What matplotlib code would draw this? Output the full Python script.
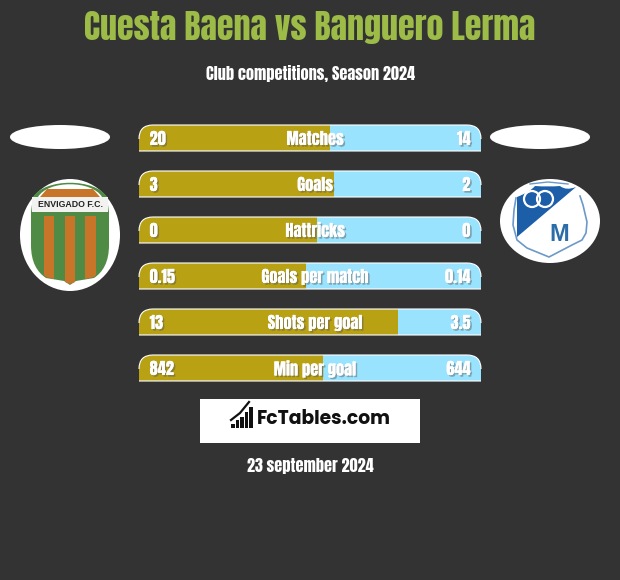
import matplotlib
matplotlib.use("Agg")
import matplotlib.pyplot as plt
import matplotlib.patches as patches
import matplotlib.patheffects as pe
from matplotlib.path import Path

# values as printed on the chart
stats = ["Matches", "Goals", "Hattricks", "Goals per match", "Shots per goal", "Min per goal"]
home_labels = ["20", "3", "0", "0.15", "13", "842"]
away_labels = ["14", "2", "0", "0.14", "3.5", "644"]
# gold share of each bar in percent
home_share = [55.8, 57.0, 52.0, 48.8, 75.7, 53.8]

title = "Cuesta Baena vs Banguero Lerma"
subtitle = "Club competitions, Season 2024"
date_text = "23 september 2024"

BG = "#333333"
GOLD = "#B8A113"
BLUE = "#99E3FF"
GREEN = "#9CBB47"
ANTON = ["Anton", "DejaVu Sans"]

M, L, C3, C4, Z = Path.MOVETO, Path.LINETO, Path.CURVE3, Path.CURVE4, Path.CLOSEPOLY

fig = plt.figure(figsize=(6.2, 5.8), dpi=100, facecolor=BG)

# page layer in pixel coordinates, for texts and badges
page = fig.add_axes([0, 0, 1, 1])
page.set_xlim(0, 620)
page.set_ylim(580, 0)
page.axis("off")

page.text(310, 27.5, title, color=GREEN, fontsize=24.4, family=ANTON, ha="center", va="center")
page.text(310, 74, subtitle, color="white", fontsize=11.7, family=ANTON, ha="center", va="center")
page.text(310, 465.5, date_text, color="white", fontsize=11.7, family=ANTON, ha="center", va="center")

# empty ovals above the badges
page.add_patch(patches.Ellipse((60, 137), 100, 24, fc="white", ec="none"))
page.add_patch(patches.Ellipse((540, 137), 100, 24, fc="white", ec="none"))

# home badge
orange = "#C8752A"
green = "#4F8B45"
page.add_patch(patches.Ellipse((70, 235), 100, 112, fc="white", ec="none"))
shield = Path(
    [(33, 197), (45, 178), (95, 178), (107, 197), (109, 212), (109, 245), (109, 262), (103, 272), (94, 278),
     (76, 281), (70, 285), (64, 281), (46, 278), (37, 272), (31, 262), (31, 245), (31, 212), (33, 197)],
    [M, C4, C4, C4, L, L, C4, C4, C4, L, L, L, L, C4, C4, C4, L, Z])
page.add_patch(patches.PathPatch(shield, fc=green, ec="none", zorder=2))
top_white = Path([(38, 197), (48, 180), (92, 180), (102, 197), (38, 197)], [M, C4, C4, C4, Z])
page.add_patch(patches.PathPatch(top_white, fc="white", ec="none", zorder=3))
page.add_patch(patches.Polygon([(40, 197), (47, 189), (93, 189), (100, 197)], fc=orange, ec="none", zorder=4))
page.add_patch(patches.Rectangle((32, 197), 76, 15, fc="#F2F2F0", ec="none", zorder=3))
page.text(70, 204.5, "ENVIGADO F.C.", color="#222222", fontsize=6.3, fontweight="bold",
          ha="center", va="center", zorder=5, family=["Liberation Sans", "DejaVu Sans"])
page.add_patch(patches.Polygon([(44, 216), (54, 216), (54, 279), (46, 277), (44, 275)], fc=orange, ec="none", zorder=4))
page.add_patch(patches.Polygon([(65, 216), (75, 216), (75, 282), (70, 284), (65, 282)], fc=orange, ec="none", zorder=4))
page.add_patch(patches.Polygon([(85, 216), (96, 216), (96, 275), (94, 277), (85, 279)], fc=orange, ec="none", zorder=4))

# away badge
blue = "#1C5FA8"
page.add_patch(patches.Ellipse((550, 221), 100, 84, fc="white", ec="none"))
crest = Path([(517, 197), (530, 192), (535, 186), (548, 187), (560, 186), (566, 191), (576, 187), (517, 237), (517, 197)],
             [M, C3, C3, C3, C3, C3, L, L, Z])
page.add_patch(patches.PathPatch(crest, fc=blue, ec="none", zorder=3))
for cx in (532, 545):
    page.add_patch(patches.Ellipse((cx, 199), 16, 16, fc="none", ec="white", lw=1.6, zorder=4))
page.text(559, 234.5, "M", color="#2A6DA8", fontsize=17, fontweight="bold",
          family=["Liberation Sans", "DejaVu Sans"], ha="center", va="center", zorder=4)
page.add_line(plt.Line2D([580, 583, 587, 586, 582, 572, 549, 527, 517, 513, 514, 516],
                         [196, 205, 222, 233, 240, 245, 257, 248, 240, 225, 210, 198],
                         color="#6C99C9", lw=1.2, zorder=4))
page.add_line(plt.Line2D([530, 548, 568], [184, 182, 184], color="#6C99C9", lw=1.0, zorder=4))

# site logo
page.add_patch(patches.Rectangle((200, 399), 220, 44, fc="white", ec="none", zorder=1))
for bx, top in zip([231, 235.5, 240, 244.5, 249], [424, 420, 417, 412, 407]):
    page.add_patch(patches.Rectangle((bx, top), 3.6, 427.5 - top, fc="#111111", ec="none", zorder=2))
page.add_line(plt.Line2D([231, 240, 249], [420, 413, 402], color="#111111", lw=1.6, zorder=2))
page.text(323.5, 420, "FcTables.com", color="#111111", fontsize=13.5, fontweight="bold",
          family=["Poppins", "Open Sans", "DejaVu Sans"], ha="center", va="center", zorder=2)

# bars, axis spans 46 px per row around the first centre at y=138
ax = fig.add_axes([139 / 620, 1 - 391 / 580, 342 / 620, 276 / 580])
ax.set_xlim(0, 100)
ax.set_ylim(5.5, -0.5)
ax.axis("off")
ax.patch.set_alpha(0)

bar_h = 26 / 46
rx = 14 / 3.42
ry = 14 / 46
label_dy = 1 / 46  # anton sits a bit high when centred


def top_round(y):
    t = y - bar_h / 2
    b = y + bar_h / 2
    verts = [(0, b), (0, t + ry), (0, t), (rx, t), (100 - rx, t), (100, t), (100, t + ry), (100, b), (0, b)]
    codes = [M, L, C3, C3, L, C3, C3, L, Z]
    return Path(verts, codes)


def edge_lines(y):
    t = y - bar_h / 2
    b = y + bar_h / 2
    verts = [(0, t + ry), (0, t), (rx, t), (100 - rx, t), (100, t), (100, t + ry), (0, b), (100, b)]
    codes = [M, C3, C3, L, C3, C3, M, L]
    return Path(verts, codes)


shadow = [pe.withSimplePatchShadow(offset=(1.2, -1.2), shadow_rgbFace="#555555", alpha=0.45), pe.Normal()]

for i, stat in enumerate(stats):
    clip = patches.PathPatch(top_round(i), fc="none", ec="none", transform=ax.transData)
    ax.add_patch(clip)
    gold = ax.barh(i, home_share[i], height=bar_h, color=GOLD, zorder=2)[0]
    rest = ax.barh(i, 100 - home_share[i], left=home_share[i], height=bar_h, color=BLUE, zorder=2)[0]
    gold.set_clip_path(clip)
    rest.set_clip_path(clip)
    ax.add_patch(patches.PathPatch(edge_lines(i), fc="none", ec="white", lw=0.8, zorder=3, clip_on=False))
    ax.text(3.1, i + label_dy, home_labels[i], color="white", fontsize=11.8, family=ANTON,
            ha="left", va="center", zorder=5, path_effects=shadow)
    ax.text(96.9, i + label_dy, away_labels[i], color="white", fontsize=11.8, family=ANTON,
            ha="right", va="center", zorder=5, path_effects=shadow)
    ax.text(51.5, i + label_dy, stat, color="white", fontsize=11.8, family=ANTON,
            ha="center", va="center", zorder=5, path_effects=shadow)

fig.savefig("out.png", dpi=100, facecolor=BG)
